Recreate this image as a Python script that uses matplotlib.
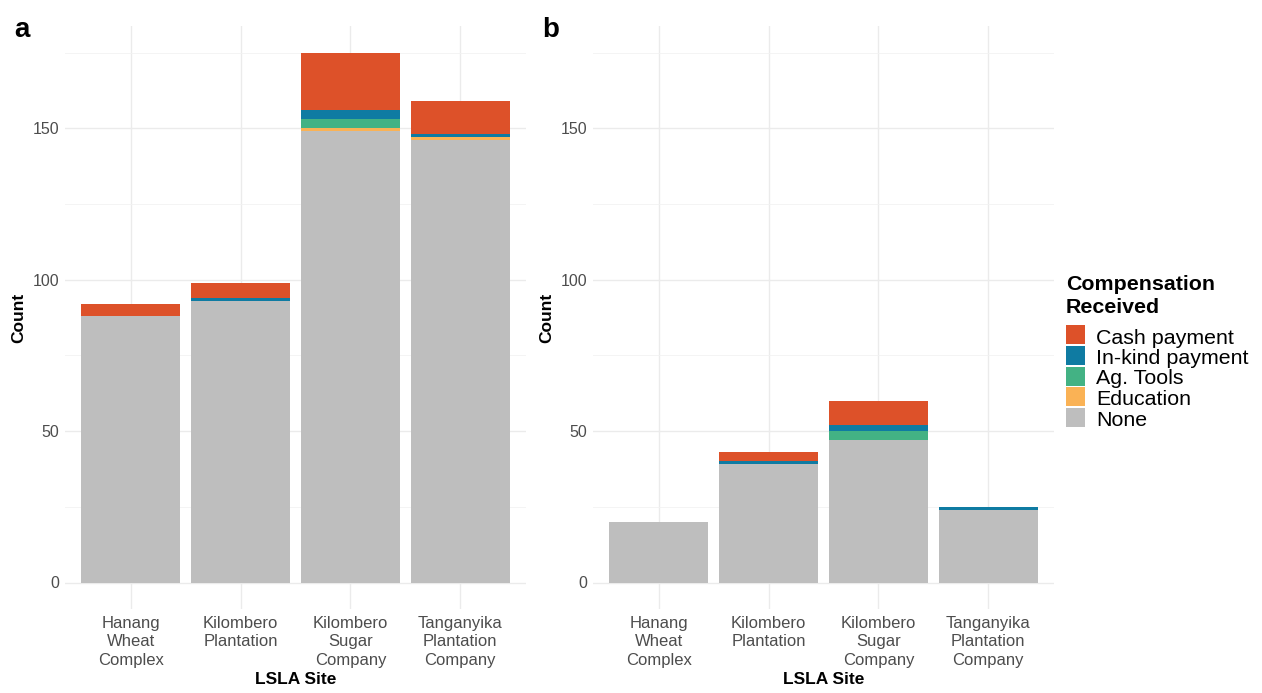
import matplotlib.pyplot as plt
from matplotlib.patches import Rectangle
from matplotlib.ticker import MultipleLocator

plt.rcParams['font.family'] = ['Liberation Sans', 'DejaVu Sans']

sites = ["Hanang\nWheat\nComplex", "Kilombero\nPlantation",
         "Kilombero\nSugar\nCompany", "Tanganyika\nPlantation\nCompany"]

# stacked from the bottom up
types = ["None", "Education", "Ag. Tools", "In-kind payment", "Cash payment"]
colors = ["#BEBEBE", "#FAB255", "#43B284", "#0F7BA2", "#DD5129"]

# panel a
none_a = [88, 93, 149, 146]
edu_a = [0, 0, 1, 1]
tools_a = [0, 0, 3, 0]
inkind_a = [0, 1, 3, 1]
cash_a = [4, 5, 19, 11]

# panel b
none_b = [20, 39, 47, 24]
edu_b = [0, 0, 0, 0]
tools_b = [0, 0, 3, 0]
inkind_b = [0, 1, 2, 1]
cash_b = [0, 3, 8, 0]

W, H = 1262, 693
fig = plt.figure(figsize=(W / 100, H / 100), dpi=100)
ax_a = fig.add_axes([65 / W, 1 - 609 / H, 461 / W, 583 / H])
ax_b = fig.add_axes([593 / W, 1 - 609 / H, 461 / W, 583 / H])

for ax, series in [(ax_a, [none_a, edu_a, tools_a, inkind_a, cash_a]),
                   (ax_b, [none_b, edu_b, tools_b, inkind_b, cash_b])]:
    x = range(1, len(sites) + 1)
    bottom = [0] * len(sites)
    for vals, col in zip(series, colors):
        ax.bar(x, vals, bottom=bottom, width=0.9, color=col, linewidth=0, zorder=2)
        bottom = [b + v for b, v in zip(bottom, vals)]
    ax.set_xlim(0.4, 4.6)
    ax.set_ylim(-8.75, 183.75)
    ax.yaxis.set_major_locator(MultipleLocator(50))
    ax.yaxis.set_minor_locator(MultipleLocator(25))
    ax.set_xticks(list(x))
    ax.set_xticklabels(sites, fontsize=12, color="#4D4D4D", linespacing=1.28)
    ax.tick_params(axis='y', labelsize=11.5, labelcolor="#4D4D4D")
    ax.tick_params(which='both', length=0, pad=4)
    ax.tick_params(axis='x', pad=5)
    ax.grid(which='major', color="#EBEBEB", linewidth=1.0, zorder=0)
    ax.grid(which='minor', axis='y', color="#F2F2F2", linewidth=0.6, zorder=0)
    for s in ax.spines.values():
        s.set_visible(False)
    ax.set_xlabel("LSLA Site", fontsize=12.5, fontweight='bold', labelpad=3)
    ax.set_ylabel("Count", fontsize=12.5, fontweight='bold', labelpad=5)
    ax.set_axisbelow(True)

fig.text(14 / W, 1 - 30 / H, "a", fontsize=20, fontweight='bold', va='center')
fig.text(542 / W, 1 - 30 / H, "b", fontsize=20, fontweight='bold', va='center')

# legend, built by hand
fig.text(1066 / W, 1 - 285 / H, "Compensation", fontsize=15.4, fontweight='bold', va='center')
fig.text(1066 / W, 1 - 307 / H, "Received", fontsize=15.4, fontweight='bold', va='center')
for i, (lab, col) in enumerate(zip(types[::-1], colors[::-1])):
    yc = 335 + i * 20.5
    fig.add_artist(Rectangle((1066 / W, 1 - (yc + 9.5) / H), 19 / W, 19 / H,
                             facecolor=col, edgecolor='none', transform=fig.transFigure))
    fig.text(1096 / W, 1 - (yc + 3) / H, lab, fontsize=15.4, va='center')

fig.savefig("out.png", dpi=100)
